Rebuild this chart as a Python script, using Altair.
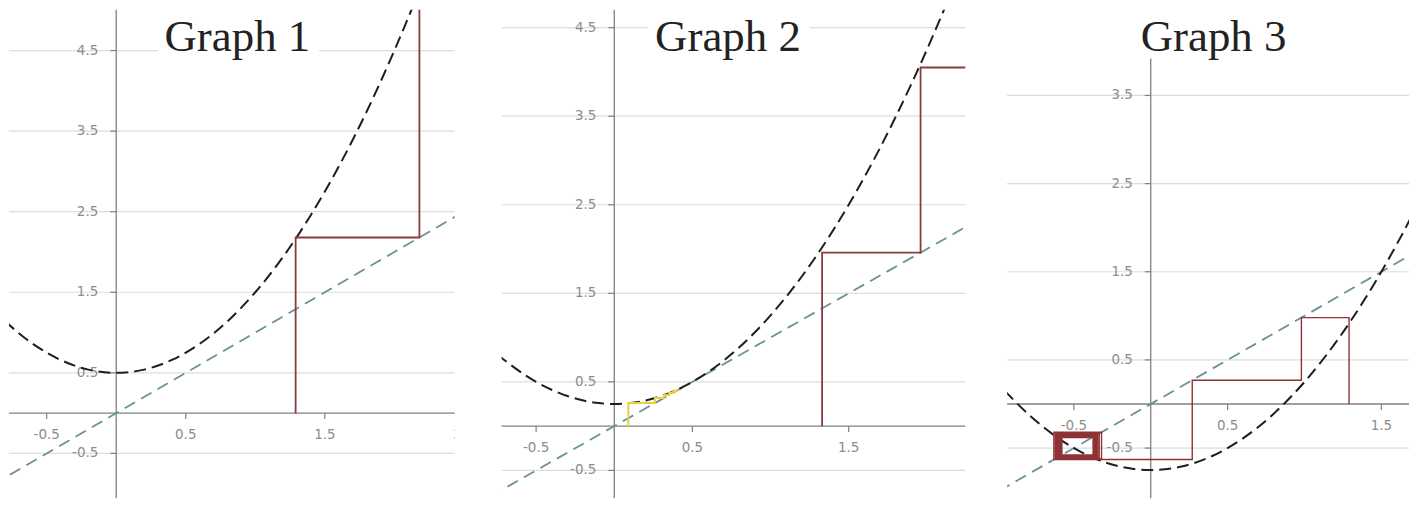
import altair as alt
import pandas as pd

# ---------------- data ----------------
# Graph 1 : dashed parabola
G1_CURVE_X = [-0.8, -0.6, -0.4, -0.2, 0.0, 0.2, 0.4, 0.6, 0.8, 1.0, 1.2, 1.4, 1.6, 1.8, 2.0, 2.15]
G1_CURVE_Y = [1.14, 0.86, 0.66, 0.54, 0.50, 0.54, 0.66, 0.86, 1.14, 1.50, 1.94, 2.46, 3.06, 3.74, 4.50, 5.12]
G1_DIAG = [-1.0, 2.6]
G1_ORBIT_RED = [1.29, 2.18, 5.3]

# Graph 2
G2_CURVE_X = [-0.75, -0.5, -0.3, -0.1, 0.0, 0.1, 0.3, 0.5, 0.7, 0.9, 1.1, 1.3, 1.5, 1.7, 1.9, 2.1, 2.2]
G2_CURVE_Y = [0.81, 0.50, 0.34, 0.26, 0.25, 0.26, 0.34, 0.50, 0.74, 1.06, 1.46, 1.94, 2.50, 3.14, 3.86, 4.66, 5.09]
G2_DIAG = [-1.0, 2.6]
G2_ORBIT_RED = [1.33, 1.96, 4.05]
G2_ORBIT_YELLOW = [0.09, 0.26, 0.318, 0.351, 0.373, 0.389, 0.401, 0.411]

# Graph 3
G3_CURVE_X = [-0.95, -0.8, -0.6, -0.4, -0.2, 0.0, 0.2, 0.4, 0.6, 0.8, 1.0, 1.2, 1.4, 1.6, 1.75]
G3_CURVE_Y = [0.15, -0.11, -0.39, -0.59, -0.71, -0.75, -0.71, -0.59, -0.39, -0.11, 0.25, 0.69, 1.21, 1.81, 2.31]
G3_DIAG = [-1.2, 2.0]
G3_ORBIT_RED = [1.29, 0.98, 0.27, -0.63, -0.32, -0.62, -0.335, -0.612, -0.345, -0.604, -0.354,
                -0.597, -0.362, -0.590, -0.369, -0.584, -0.375, -0.578, -0.381]

# gridlines / tick labels
G1_GRID = [4.5, 3.5, 2.5, 1.5, 0.5, -0.5]
G2_GRID = [4.5, 3.5, 2.5, 1.5, 0.5, -0.5]
G3_GRID = [3.5, 2.5, 1.5, 0.5, -0.5]
G1_XTICKS = [-0.5, 0.5, 1.5, 2.5]
G2_XTICKS = [-0.5, 0.5, 1.5]
G3_XTICKS = [-0.5, 0.5, 1.5]
TITLES = ["Graph 1", "Graph 2", "Graph 3"]

LABEL_COLOR = "#8c8c8c"
AXIS_COLOR = "#808080"
LABEL_FONT = "DejaVu Sans"


def cobweb(orbit):
    xs, ys = [orbit[0]], [0.0]
    for a, b in zip(orbit[:-1], orbit[1:]):
        xs += [a, b]
        ys += [b, b]
    return pd.DataFrame({"x": xs, "y": ys, "i": list(range(len(xs)))})


def fmt(v):
    return ("%g" % v)


def panel(w, h, xdom, ydom, cx, cy, diag, orbits, grid, xt, title, tx, ty, vtop):
    xs = alt.Scale(domain=xdom, nice=False, zero=False)
    ys = alt.Scale(domain=ydom, nice=False, zero=False)

    def X(f):
        return alt.X(f, type="quantitative", scale=xs, axis=None)

    def Y(f):
        return alt.Y(f, type="quantitative", scale=ys, axis=None)

    layers = []
    # gridlines
    layers.append(
        alt.Chart(pd.DataFrame({"y": grid}))
        .mark_rule(color="#dcdcdc", strokeWidth=1.2)
        .encode(y=Y("y"), x=alt.value(0), x2=alt.value(w))
    )
    # white box behind the title
    layers.append(
        alt.Chart(pd.DataFrame({"a": [0]}))
        .mark_rect(color="white")
        .encode(x=alt.value(tx - 80), x2=alt.value(tx + 82), y=alt.value(0), y2=alt.value(ty + 10))
    )
    # axis lines
    layers.append(
        alt.Chart(pd.DataFrame({"x": [0.0], "y": [ydom[0]], "y2": [vtop]}))
        .mark_rule(color=AXIS_COLOR, strokeWidth=1.3)
        .encode(x=X("x"), y=Y("y"), y2="y2")
    )
    layers.append(
        alt.Chart(pd.DataFrame({"x": [xdom[0]], "x2": [xdom[1]], "y": [0.0]}))
        .mark_rule(color=AXIS_COLOR, strokeWidth=1.3)
        .encode(x=X("x"), x2="x2", y=Y("y"))
    )
    # ticks
    xtdf = pd.DataFrame({"x": xt, "y": [0.0] * len(xt), "t": [fmt(v) for v in xt]})
    layers.append(
        alt.Chart(xtdf).mark_rule(color=AXIS_COLOR, strokeWidth=1.2, y2Offset=6, clip=True)
        .encode(x=X("x"), y=Y("y"), y2="y")
    )
    ytdf = pd.DataFrame({"x": [0.0] * len(grid), "y": grid, "t": [fmt(v) for v in grid]})
    layers.append(
        alt.Chart(ytdf).mark_rule(color=AXIS_COLOR, strokeWidth=1.2, x2Offset=-6)
        .encode(x=X("x"), x2="x", y=Y("y"))
    )
    # labels
    layers.append(
        alt.Chart(xtdf).mark_text(dy=22, fontSize=13.5, color=LABEL_COLOR, font=LABEL_FONT, clip=True)
        .encode(x=X("x"), y=Y("y"), text="t:N")
    )
    layers.append(
        alt.Chart(ytdf).mark_text(align="right", baseline="middle", dx=-18, fontSize=13.5,
                                  color=LABEL_COLOR, font=LABEL_FONT)
        .encode(x=X("x"), y=Y("y"), text="t:N")
    )
    # y = x
    layers.append(
        alt.Chart(pd.DataFrame({"x": diag, "y": diag}))
        .mark_line(color="#6a909b", strokeWidth=1.8, strokeDash=[12, 7], clip=True)
        .encode(x=X("x"), y=Y("y"))
    )
    # parabola
    layers.append(
        alt.Chart(pd.DataFrame({"x": cx, "y": cy}))
        .mark_line(color="#1e1e1e", strokeWidth=2, strokeDash=[12, 6], clip=True, interpolate="monotone")
        .encode(x=X("x"), y=Y("y"))
    )
    # cobwebs
    for orbit, color, sw in orbits:
        layers.append(
            alt.Chart(cobweb(orbit))
            .mark_line(color=color, strokeWidth=sw, clip=True)
            .encode(x=X("x"), y=Y("y"), order=alt.Order("i:Q"))
        )
    # title
    layers.append(
        alt.Chart(pd.DataFrame({"t": [title]}))
        .mark_text(font="Liberation Serif", fontSize=45, color="#222222", align="center",
                   baseline="alphabetic")
        .encode(x=alt.value(tx), y=alt.value(ty), text="t:N")
    )
    return alt.layer(*layers).properties(width=w, height=h)


p1 = panel(447, 490, [-0.771, 2.434], [-1.057, 5.007], G1_CURVE_X, G1_CURVE_Y, G1_DIAG,
           [(G1_ORBIT_RED, "#8b3a3e", 1.8)], G1_GRID, G1_XTICKS, TITLES[0], 229, 41, 5.007)
p2 = panel(465, 490, [-0.721, 2.246], [-0.815, 4.703], G2_CURVE_X, G2_CURVE_Y, G2_DIAG,
           [(G2_ORBIT_RED, "#8b3a3e", 1.8), (G2_ORBIT_YELLOW, "#e6d23c", 2)],
           G2_GRID, G2_XTICKS, TITLES[1], 227, 41, 4.703)
p3 = panel(403, 490, [-0.934, 1.680], [-1.070, 4.473], G3_CURVE_X, G3_CURVE_Y, G3_DIAG,
           [(G3_ORBIT_RED, "#8f3236", 1.4)], G3_GRID, G3_XTICKS, TITLES[2], 207, 41, 3.92)

chart = (
    alt.hconcat(alt.hconcat(p1, p2, spacing=45), p3, spacing=40)
    .properties(padding=0, background="white")
    .configure_view(stroke=None)
)

chart.save("out.html", embed_options={"renderer": "svg", "actions": False})
